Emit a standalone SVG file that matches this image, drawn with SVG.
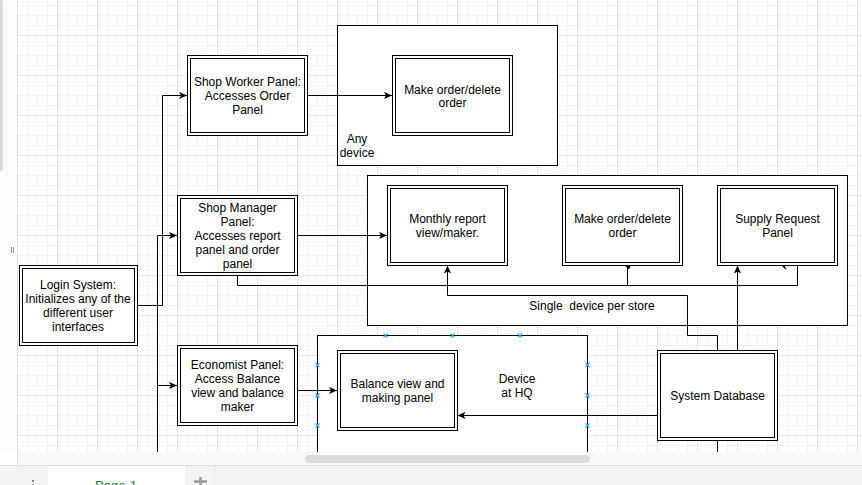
<svg xmlns="http://www.w3.org/2000/svg" width="862" height="485" viewBox="0 0 862 485">
<style>
.o{fill:#fff;stroke:#000;stroke-width:1}
.i{fill:none;stroke:#000;stroke-width:1}
.c{fill:#fff;stroke:#000;stroke-width:1}
.e{fill:none;stroke:#000;stroke-width:1}
.t{font-family:"Liberation Sans",Arial,sans-serif;font-size:12px;fill:#000;text-anchor:middle}
.h{stroke:#29b6f2;stroke-width:1.2}
</style>
<defs>
<pattern id="grid" patternUnits="userSpaceOnUse" x="17" y="35" width="40" height="40">
<path d="M10.5,0V40M20.5,0V40M30.5,0V40M0,10.5H40M0,20.5H40M0,30.5H40" stroke="#f3f3f3" stroke-width="1" fill="none"/>
<path d="M0.5,0V40M0,0.5H40" stroke="#e4e4e4" stroke-width="1" fill="none"/>
</pattern>
<marker id="arr" viewBox="0 0 10 10" refX="10" refY="5" markerWidth="8" markerHeight="8" markerUnits="userSpaceOnUse" orient="auto">
<path d="M0,0.5L10,5L0,9.5L2.5,5Z" fill="#000"/>
</marker>
<symbol id="hx" viewBox="-2.5 -2.5 5 5" overflow="visible"><path d="M-2,-2L2,2M2,-2L-2,2" class="h"/></symbol>
</defs>
<rect x="0" y="0" width="862" height="485" fill="#fff"/>
<rect x="18" y="0" width="844" height="452" fill="url(#grid)"/>
<rect x="0" y="0" width="18" height="452" fill="#fbfbfb"/>
<line x1="17.5" y1="0" x2="17.5" y2="485" stroke="#e2e2e2"/>
<rect x="0" y="0" width="2.5" height="171" rx="1" fill="#d6d6d6"/>
<path d="M11.5,247V253M13.5,247V253" stroke="#777" stroke-width="0.8"/>

<g id="containers">
<g id="any-device"><rect class="c" x="337.5" y="25.5" width="220" height="140"/>
<text class="t" x="357" y="143">Any</text><text class="t" x="357" y="157">device</text></g>
<g id="single-device"><rect class="c" x="367.5" y="175.5" width="480" height="150"/>
<text class="t" x="592" y="310" xml:space="preserve">Single  device per store</text></g>
<g id="device-hq"><rect class="c" x="317.5" y="335.5" width="270" height="130"/>
<text class="t" x="517" y="383">Device</text><text class="t" x="517" y="397">at HQ</text></g>
</g>

<g id="connectors">
<path class="e" d="M137.5,305.5H162.5V95.5H187" marker-end="url(#arr)"/>
<path class="e" d="M137.5,305.5H157.5V235.5H177" marker-end="url(#arr)"/>
<path class="e" d="M157.5,305.5V385.5H177" marker-end="url(#arr)"/>
<path class="e" d="M157.5,385.5V452"/>
<path class="e" d="M307.5,95.5H392" marker-end="url(#arr)"/>
<path class="e" d="M297.5,235.5H387" marker-end="url(#arr)"/>
<path class="e" d="M237.5,275.5V285.5H627.5V266"/>
<path class="e" d="M627.5,285.5H797.5V265.5"/>
<path d="M625,266H630.5L629,269.5L627.5,268Z" fill="#000"/>
<path d="M782,266H785L786.5,270L784,268Z" fill="#000"/>
<path class="e" d="M717.5,350.5V335.5H687.5V295.5H447.5V265.5" marker-end="url(#arr)"/>
<path class="e" d="M737.5,350.5V265.5" marker-end="url(#arr)"/>
<path class="e" d="M297.5,390.5H337" marker-end="url(#arr)"/>
<path class="e" d="M657.5,415.5H457.5" marker-end="url(#arr)"/>
<path class="e" d="M717.5,440.5V452"/>
</g>

<g id="shop-worker"><rect class="o" x="187.5" y="55.5" width="120" height="80"/><rect class="i" x="190.5" y="58.5" width="114" height="74"/>
<text class="t" x="247.5" y="86">Shop Worker Panel:</text><text class="t" x="247.5" y="100">Accesses Order</text><text class="t" x="247.5" y="114">Panel</text></g>
<g id="make-order-1"><rect class="o" x="392.5" y="55.5" width="120" height="80"/><rect class="i" x="395.5" y="58.5" width="114" height="74"/>
<text class="t" x="452.5" y="93.5">Make order/delete</text><text class="t" x="452.5" y="107">order</text></g>
<g id="shop-manager"><rect class="o" x="177.5" y="195.5" width="120" height="80"/><rect class="i" x="180.5" y="198.5" width="114" height="74"/>
<text class="t" x="237.5" y="212">Shop Manager</text><text class="t" x="237.5" y="226">Panel:</text><text class="t" x="237.5" y="240">Accesses report</text><text class="t" x="237.5" y="254">panel and order</text><text class="t" x="237.5" y="268">panel</text></g>
<g id="login"><rect class="o" x="19.5" y="265.5" width="118" height="80"/><rect class="i" x="22.5" y="268.5" width="112" height="74"/>
<text class="t" x="78" y="289">Login System:</text><text class="t" x="78" y="303">Initializes any of the</text><text class="t" x="78" y="317">different user</text><text class="t" x="78" y="331">interfaces</text></g>
<g id="monthly-report"><rect class="o" x="387.5" y="185.5" width="120" height="80"/><rect class="i" x="390.5" y="188.5" width="114" height="74"/>
<text class="t" x="447.5" y="223">Monthly report</text><text class="t" x="447.5" y="237">view/maker.</text></g>
<g id="make-order-2"><rect class="o" x="562.5" y="185.5" width="120" height="80"/><rect class="i" x="565.5" y="188.5" width="114" height="74"/>
<text class="t" x="622.5" y="223">Make order/delete</text><text class="t" x="622.5" y="237">order</text></g>
<g id="supply-request"><rect class="o" x="717.5" y="185.5" width="120" height="80"/><rect class="i" x="720.5" y="188.5" width="114" height="74"/>
<text class="t" x="777.5" y="223">Supply Request</text><text class="t" x="777.5" y="237">Panel</text></g>
<g id="economist"><rect class="o" x="177.5" y="345.5" width="120" height="80"/><rect class="i" x="180.5" y="348.5" width="114" height="74"/>
<text class="t" x="237.5" y="368.5">Economist Panel:</text><text class="t" x="237.5" y="382.5">Access Balance</text><text class="t" x="237.5" y="396.5">view and balance</text><text class="t" x="237.5" y="410.5">maker</text></g>
<g id="balance"><rect class="o" x="337.5" y="350.5" width="120" height="80"/><rect class="i" x="340.5" y="353.5" width="114" height="74"/>
<text class="t" x="397.5" y="387.5">Balance view and</text><text class="t" x="397.5" y="401.5">making panel</text></g>
<g id="system-database"><rect class="o" x="657.5" y="350.5" width="120" height="90"/><rect class="i" x="660.5" y="353.5" width="114" height="84"/>
<text class="t" x="717.5" y="400">System Database</text></g>

<g id="handles">
<use href="#hx" x="383" y="333" width="5" height="5"/>
<use href="#hx" x="450" y="333" width="5" height="5"/>
<use href="#hx" x="517.5" y="333" width="5" height="5"/>
<use href="#hx" x="315" y="362.5" width="5" height="5"/>
<use href="#hx" x="315" y="393" width="5" height="5"/>
<use href="#hx" x="315" y="423" width="5" height="5"/>
<use href="#hx" x="585" y="362.5" width="5" height="5"/>
<use href="#hx" x="585" y="393" width="5" height="5"/>
<use href="#hx" x="585" y="423" width="5" height="5"/>
</g>

<g id="ui-bottom">
<rect x="18" y="452" width="844" height="13" fill="#f8f9fa"/>
<rect x="305" y="455" width="285" height="8" rx="4" fill="#dadce0"/>
<rect x="0" y="465" width="862" height="20" fill="#f1f3f4"/>
<line x1="0" y1="465.5" x2="862" y2="465.5" stroke="#dadce0"/>
<rect x="48" y="466" width="137" height="19" fill="#fff"/>
<line x1="214.5" y1="466" x2="214.5" y2="485" stroke="#e4e6e8"/>
<text x="116" y="490" font-family="Liberation Sans,Arial,sans-serif" font-size="13" fill="#1e7e34" text-anchor="middle">Page-1</text>
<rect x="32" y="480" width="2" height="2" fill="#888"/>
<rect x="32" y="484" width="2" height="1" fill="#888"/>
<path d="M200.5,477V485M194,481.5H207" stroke="#999" stroke-width="2.5"/>
</g>
</svg>
